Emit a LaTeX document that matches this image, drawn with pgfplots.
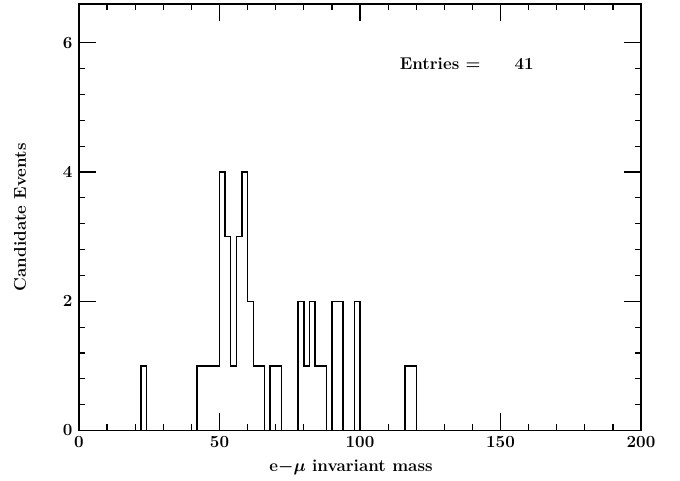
\documentclass[border=0pt]{standalone}
\usepackage{pgfplots}
\pgfplotsset{compat=1.18}
\begin{document}
\begin{tikzpicture}
\useasboundingbox (-79pt,-50.5pt) rectangle (601pt,430.5pt);
\begin{axis}[
  at={(0,0)}, anchor=south west,
  scale only axis, width=562pt, height=426.5pt,
  xmin=0, xmax=200, ymin=0, ymax=6.6,
  xtick={0,50,100,150,200}, ytick={0,2,4,6},
  minor x tick num=4, minor y tick num=4,
  tick align=inside, xtick pos=both, ytick pos=both,
  major tick length=17pt, minor tick length=6.5pt,
  every tick/.style={black, line width=1.2pt},
  axis line style={line width=1.6pt},
  /pgf/number format/assume math mode=true,
  tick label style={font=\fontsize{17}{20}\selectfont\bfseries},
  label style={font=\fontsize{17}{20}\selectfont\bfseries\boldmath},
  xticklabel style={yshift=-2pt},
  yticklabel style={xshift=-3pt},
  xlabel={e$-\mu$ invariant mass},
  ylabel={Candidate Events},
  xlabel style={at={(axis description cs:0.484,-0.0856)}, anchor=center},
  ylabel style={at={(axis description cs:-0.105,0.5)}, anchor=center},
  clip=false,
]
\addplot[const plot, black, line width=1.4pt] coordinates {
 (0,0) (22,1) (24,0) (42,1) (50,4) (52,3) (54,1) (56,3) (58,4) (60,2)
 (62,1) (66,0) (68,1) (72,0) (78,2) (80,1) (82,2) (84,1) (88,0) (90,2)
 (94,0) (98,2) (100,0) (116,1) (120,0) (200,0)};
\node[anchor=west, font=\fontsize{17}{20}\selectfont\bfseries, inner sep=0pt] at (axis cs:114.1,5.68) {Entries =};
\node[anchor=east, font=\fontsize{17}{20}\selectfont\bfseries, inner sep=0pt] at (axis cs:161.9,5.68) {41};
\end{axis}
\end{tikzpicture}
\end{document}
